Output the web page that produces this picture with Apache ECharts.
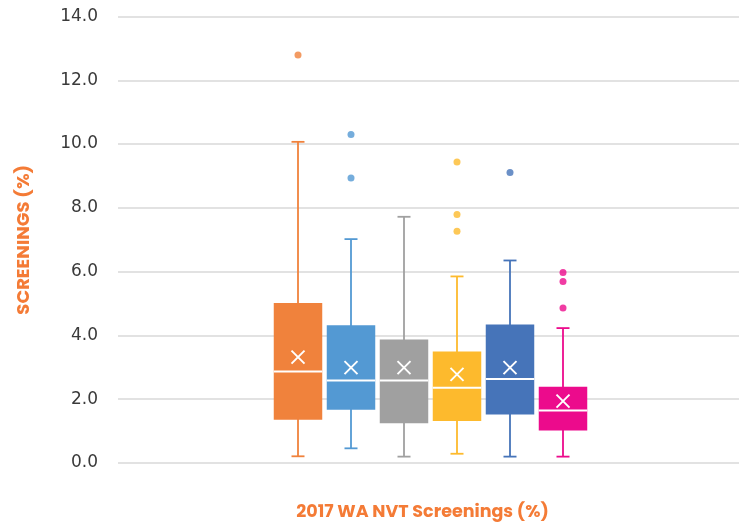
<!DOCTYPE html>
<html>
<head>
<meta charset="utf-8">
<script src="https://cdn.jsdelivr.net/npm/echarts@6/dist/echarts.min.js"></script>
<style>html,body{margin:0;padding:0;background:#fff;}#c{width:739px;height:525px;}</style>
</head>
<body>
<div id="c"></div>
<script>
const categories = ['Group 1', 'Group 2', 'Group 3', 'Group 4', 'Group 5', 'Group 6'];
const colors = ['#F0823C', '#5399D3', '#A0A0A0', '#FDBA2D', '#4674B9', '#EC0B8C'];
const whiskerLow = [0.21, 0.46, 0.20, 0.29, 0.20, 0.20];
const q1 = [1.36, 1.67, 1.25, 1.32, 1.52, 1.02];
const median = [2.87, 2.59, 2.59, 2.36, 2.63, 1.65];
const q3 = [5.02, 4.32, 3.87, 3.50, 4.34, 2.39];
const whiskerHigh = [10.07, 7.02, 7.72, 5.85, 6.35, 4.23];
const mean = [3.32, 2.99, 2.99, 2.78, 2.99, 1.94];
const outliers = [[12.79], [10.30, 8.94], [], [9.44, 7.79, 7.27], [9.11], [5.97, 5.69, 4.86]];
const yTicks = [0, 2, 4, 6, 8, 10, 12, 14];

const boxData = categories.map((c, i) => [i, whiskerLow[i], q1[i], median[i], q3[i], whiskerHigh[i], mean[i]]);
const outlierData = [];
outliers.forEach((arr, i) => arr.forEach(v => outlierData.push([i, v])));

const chart = echarts.init(document.getElementById('c'));
const font = 'Poppins, "Noto Sans", sans-serif';

function renderBox(params, api) {
  const i = api.value(0);
  const col = colors[i];
  const pLow = api.coord([i, api.value(1)]);
  const pQ1 = api.coord([i, api.value(2)]);
  const pMed = api.coord([i, api.value(3)]);
  const pQ3 = api.coord([i, api.value(4)]);
  const pHigh = api.coord([i, api.value(5)]);
  const pMean = api.coord([i, api.value(6)]);
  const band = api.size([1, 0])[0];
  const bw = band * 0.915;
  const cx = pLow[0];
  const cap = 6.5;
  const xs = 6.5;
  const lw = 1.8;
  return {
    type: 'group',
    children: [
      { type: 'line', shape: { x1: cx, y1: pLow[1], x2: cx, y2: pHigh[1] }, style: { stroke: col, lineWidth: lw } },
      { type: 'line', shape: { x1: cx - cap, y1: pLow[1], x2: cx + cap, y2: pLow[1] }, style: { stroke: col, lineWidth: lw } },
      { type: 'line', shape: { x1: cx - cap, y1: pHigh[1], x2: cx + cap, y2: pHigh[1] }, style: { stroke: col, lineWidth: lw } },
      { type: 'rect', shape: { x: cx - bw / 2, y: pQ3[1], width: bw, height: pQ1[1] - pQ3[1] }, style: { fill: col, stroke: null } },
      { type: 'line', shape: { x1: cx - bw / 2, y1: pMed[1], x2: cx + bw / 2, y2: pMed[1] }, style: { stroke: '#fff', lineWidth: 2 } },
      { type: 'line', shape: { x1: cx - xs, y1: pMean[1] - xs, x2: cx + xs, y2: pMean[1] + xs }, style: { stroke: '#fff', lineWidth: 2 } },
      { type: 'line', shape: { x1: cx - xs, y1: pMean[1] + xs, x2: cx + xs, y2: pMean[1] - xs }, style: { stroke: '#fff', lineWidth: 2 } }
    ]
  };
}

chart.setOption({
  animation: false,
  backgroundColor: '#fff',
  grid: [
    { left: 118, right: 0, top: 16.5, bottom: 62, containLabel: false, outerBoundsMode: 'none' },
    { left: 271.5, width: 318, top: 16.5, bottom: 62, containLabel: false, outerBoundsMode: 'none' }
  ],
  xAxis: [
    { type: 'category', gridIndex: 0, data: [''], show: true,
      axisLine: { show: false }, axisTick: { show: false }, axisLabel: { show: false },
      name: '2017 WA NVT Screenings (%)', nameLocation: 'middle', nameGap: 41,
      nameTextStyle: { color: '#F47B36', fontSize: 17.5, fontWeight: 'bold', fontFamily: font, verticalAlign: 'top', padding: [0, 12, 0, 0] } },
    { type: 'category', gridIndex: 1, data: categories, show: false, boundaryGap: true }
  ],
  yAxis: [
    { type: 'value', gridIndex: 0, min: 0, max: 14, interval: 2,
      axisLine: { show: false }, axisTick: { show: false },
      axisLabel: { color: '#3A3A3A', fontSize: 17, fontFamily: '"DejaVu Sans", sans-serif', margin: 20,
        formatter: v => yTicks.includes(v) ? v.toFixed(1) : '' },
      splitLine: { lineStyle: { color: '#D9D9D9', width: 1.6 } },
      name: 'SCREENINGS (%)', nameLocation: 'middle', nameGap: 85, nameRotate: 90,
      nameTextStyle: { color: '#F47B36', fontSize: 18, fontWeight: 'bold', fontFamily: font } },
    { type: 'value', gridIndex: 1, min: 0, max: 14, interval: 2, show: false, splitLine: { show: false } }
  ],
  series: [
    { type: 'custom', xAxisIndex: 1, yAxisIndex: 1, data: boxData, renderItem: renderBox,
      encode: { x: 0, y: [1, 2, 3, 4, 5, 6] }, z: 3 },
    { type: 'scatter', xAxisIndex: 1, yAxisIndex: 1, data: outlierData, symbol: 'circle', symbolSize: 7,
      itemStyle: { color: p => colors[p.data[0]] }, z: 4 }
  ]
});
</script>
</body>
</html>
